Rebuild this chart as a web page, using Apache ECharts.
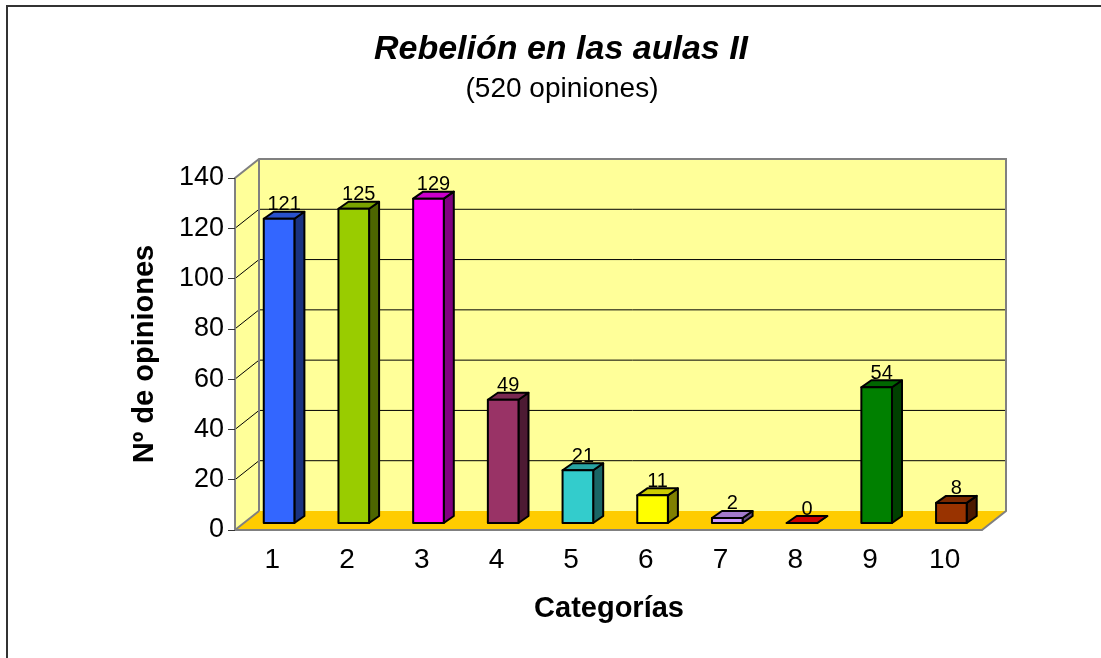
<!DOCTYPE html>
<html>
<head>
<meta charset="utf-8" />
<script src="https://cdn.jsdelivr.net/npm/echarts@6/dist/echarts.min.js"></script>
<style>html, body { margin: 0; padding: 0; background: #fff; }</style>
</head>
<body>
<div id="chart" style="width: 1101px; height: 658px;"></div>
<script>
// Data
var categories = ['1', '2', '3', '4', '5', '6', '7', '8', '9', '10'];
var opinions = [121, 125, 129, 49, 21, 11, 2, 0, 54, 8];
var yMax = 140;
var yStep = 20;

// Excel-like colours, one per category
var barColors = ['#3366FF', '#99CC00', '#FF00FF', '#993366', '#33CCCC', '#FFFF00', '#CC99FF', '#FF0000', '#008000', '#993300'];

var FONT = 'Arial, "Liberation Sans", sans-serif';
var wallDx = 24, wallDy = -19;   // depth of the 3D box
var edgeGrey = '#808080';

function shade(hex, f) {
    var n = parseInt(hex.slice(1), 16);
    var r = Math.round(((n >> 16) & 255) * f);
    var g = Math.round(((n >> 8) & 255) * f);
    var b = Math.round((n & 255) * f);
    return 'rgb(' + r + ',' + g + ',' + b + ')';
}

function renderWalls(params, api) {
    var cs = params.coordSys;
    var L = cs.x, R = cs.x + cs.width, T = cs.y, B = cs.y + cs.height;
    var dx = wallDx, dy = wallDy;
    var kids = [
        { type: 'polygon', shape: { points: [[L, B], [L + dx, B + dy], [L + dx, T + dy], [L, T]] }, style: { fill: '#FFFF99' } },
        { type: 'rect', shape: { x: L + dx, y: T + dy, width: R - L, height: B - T }, style: { fill: '#FFFF99' } },
        { type: 'polygon', shape: { points: [[L, B], [L + dx, B + dy], [R + dx, B + dy], [R, B]] }, style: { fill: '#FFCC00' } }
    ];
    for (var v = yStep; v < yMax; v += yStep) {
        var y = api.coord([0, v])[1];
        kids.push({ type: 'line', shape: { x1: L + dx, y1: y + dy, x2: R + dx, y2: y + dy }, style: { stroke: '#000', lineWidth: 1 } });
        kids.push({ type: 'line', shape: { x1: L, y1: y, x2: L + dx, y2: y + dy }, style: { stroke: '#000', lineWidth: 1 } });
    }
    kids.push({ type: 'polyline', shape: { points: [[L, T], [L + dx, T + dy], [R + dx, T + dy], [R + dx, B + dy], [R, B]] }, style: { stroke: edgeGrey, lineWidth: 2, fill: null } });
    kids.push({ type: 'line', shape: { x1: L + dx, y1: T + dy, x2: L + dx, y2: B + dy }, style: { stroke: edgeGrey, lineWidth: 2 } });
    kids.push({ type: 'line', shape: { x1: L, y1: B, x2: L + dx, y2: B + dy }, style: { stroke: edgeGrey, lineWidth: 2 } });
    return { type: 'group', children: kids };
}

function renderBar(params, api) {
    var i = api.value(0), v = api.value(1);
    var top = api.coord([i, v]);
    var base = api.coord([i, 0]);
    var bw = api.size([1, 0])[0];
    var xl = top[0] - 0.115 * bw, xr = top[0] + 0.295 * bw;
    var fdy = -7;                       // front face sits a bit into the box
    var ddx = 0.134 * bw, ddy = -7;     // depth of each bar
    var yT = top[1] + fdy, yB = base[1] + fdy;
    var c = barColors[params.dataIndex];
    var st = { stroke: '#000', lineWidth: 2, lineJoin: 'round' };
    return {
        type: 'group',
        children: [
            { type: 'polygon', shape: { points: [[xr, yT], [xr + ddx, yT + ddy], [xr + ddx, yB + ddy], [xr, yB]] }, style: Object.assign({ fill: shade(c, 0.5) }, st) },
            { type: 'polygon', shape: { points: [[xl, yT], [xr, yT], [xr + ddx, yT + ddy], [xl + ddx, yT + ddy]] }, style: Object.assign({ fill: shade(c, 0.8) }, st) },
            { type: 'rect', shape: { x: xl, y: yT, width: xr - xl, height: yB - yT }, style: Object.assign({ fill: c }, st) },
            { type: 'text', x: (xl + xr) / 2 + ddx / 2, y: yT + ddy + 3,
              style: { text: String(v), fill: '#000', font: '20px ' + FONT, textAlign: 'center', textVerticalAlign: 'bottom' } }
        ]
    };
}

var chart = echarts.init(document.getElementById('chart'));

var option = {
    backgroundColor: '#fff',
    animation: false,
    grid: { left: 235, right: 119, top: 178, bottom: 128 },
    xAxis: {
        type: 'category',
        data: categories,
        z: 10,
        axisLine: { lineStyle: { color: edgeGrey, width: 2 } },
        axisTick: { length: 7, lineStyle: { color: '#333' } },
        axisLabel: { color: '#000', fontSize: 28, fontFamily: FONT, margin: 16 }
    },
    yAxis: {
        type: 'value',
        min: 0,
        max: yMax,
        interval: yStep,
        z: 10,
        axisLine: { show: true, lineStyle: { color: edgeGrey, width: 2 } },
        axisTick: { show: true, length: 7, lineStyle: { color: '#333' } },
        splitLine: { show: false },
        axisLabel: { color: '#000', fontSize: 27, fontFamily: FONT, margin: 11 }
    },
    graphic: [
        { type: 'rect', shape: { x: 7, y: 6, width: 1120, height: 680 }, style: { fill: null, stroke: '#333', lineWidth: 2 } },
        { type: 'text', x: 561, y: 50, style: { text: 'Rebelión en las aulas II', font: 'italic bold 34px ' + FONT, fill: '#000', textAlign: 'center', textVerticalAlign: 'middle' } },
        { type: 'text', x: 562, y: 89, style: { text: '(520 opiniones)', font: '28px ' + FONT, fill: '#000', textAlign: 'center', textVerticalAlign: 'middle' } },
        { type: 'text', x: 145, y: 354, rotation: Math.PI / 2, style: { text: 'Nº de opiniones', font: 'bold 29px ' + FONT, fill: '#000', textAlign: 'center', textVerticalAlign: 'middle' } },
        { type: 'text', x: 609, y: 609, style: { text: 'Categorías', font: 'bold 29px ' + FONT, fill: '#000', textAlign: 'center', textVerticalAlign: 'middle' } }
    ],
    series: [
        { type: 'custom', name: 'walls', z: 1, silent: true, clip: false, renderItem: renderWalls, data: [[0, 0]] },
        { type: 'custom', name: 'opiniones', z: 3, clip: false, renderItem: renderBar,
          data: opinions.map(function (v, i) { return [i, v]; }) }
    ]
};

chart.setOption(option);
</script>
</body>
</html>
